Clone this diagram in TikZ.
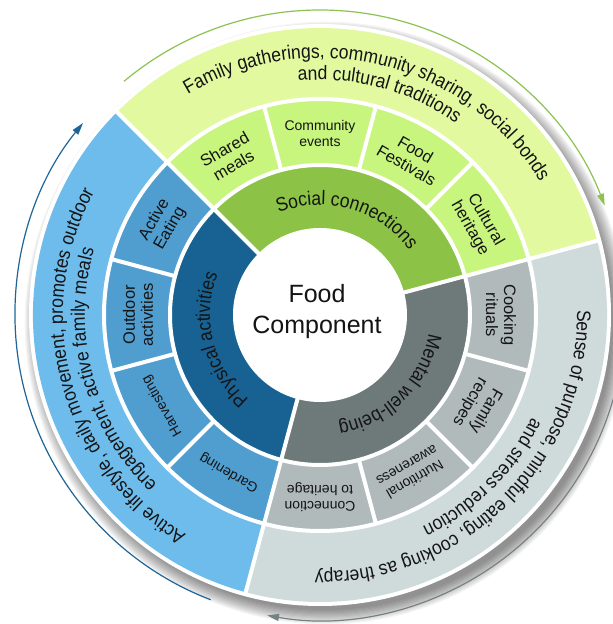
\documentclass[tikz,border=0pt]{standalone}
\usepackage{fontspec}
\setmainfont[FakeStretch=0.9]{Liberation Sans}
\newfontfamily\plainfont{Liberation Sans}
\usetikzlibrary{decorations.text,arrows.meta}

% ring colours
\definecolor{outerG}{RGB}{226,249,160}
\definecolor{subG}{RGB}{200,245,126}
\definecolor{catG}{RGB}{140,195,70}
\definecolor{outerB}{RGB}{110,188,236}
\definecolor{subB}{RGB}{80,158,208}
\definecolor{catB}{RGB}{24,98,147}
\definecolor{outerGr}{RGB}{207,219,219}
\definecolor{subGr}{RGB}{176,186,186}
\definecolor{catGr}{RGB}{110,121,121}
\definecolor{arrG}{RGB}{140,195,80}
\definecolor{arrB}{RGB}{30,100,150}
\definecolor{arrGr}{RGB}{118,130,130}
\definecolor{ink}{RGB}{20,20,20}

% annular sector: colour, start angle, end angle, inner radius, outer radius
\newcommand\ringsector[5]{%
  \fill[#1] (#2:#4) arc[start angle=#2, end angle=#3, radius=#4]
    -- (#3:#5) arc[start angle=#3, end angle=#2, radius=#5] -- cycle;}

% text set clockwise along an arc: centre angle, baseline radius, font size, text
\newcommand\arctext[4]{%
  \path[decorate, decoration={text along path, text align=center,
      text color=ink, text={|\fontsize{#3}{#3}\selectfont|#4}}]
    (#1+85:#2) arc[start angle=#1+85, end angle=#1-85, radius=#2];}

\begin{document}
\begin{tikzpicture}[
  sublabel/.style={font=\plainfont\fontsize{16.5}{18}\selectfont, align=center, text=ink, inner sep=0pt},
  smalllabel/.style={font=\plainfont\fontsize{14}{16}\selectfont, align=center, text=ink, inner sep=0pt},
  gap/.style={white, line width=4pt},
  cyclearrow/.style={line width=1.2pt, -{Triangle[length=12pt,width=7pt]}},
]
\useasboundingbox (-320pt,-309pt) rectangle (293pt,315pt);

% soft shadow under the wheel
\foreach \i in {0,...,13}
  \fill[black, opacity=0.04] (6pt,-8pt) circle[radius=287pt+\i*1.1pt];

% white rim
\fill[white] (0,0) circle[radius=291pt];

% outer ring
\ringsector{outerG}{15}{135}{216pt}{287pt}
\ringsector{outerB}{135}{255}{216pt}{287pt}
\ringsector{outerGr}{255}{375}{216pt}{287pt}

% middle ring
\ringsector{subG}{15}{135}{150pt}{216pt}
\ringsector{subB}{135}{255}{150pt}{216pt}
\ringsector{subGr}{255}{375}{150pt}{216pt}

% inner ring
\ringsector{catG}{15}{135}{85pt}{150pt}
\ringsector{catB}{135}{255}{85pt}{150pt}
\ringsector{catGr}{255}{375}{85pt}{150pt}

% white separators
\draw[gap] (0,0) circle[radius=216pt];
\draw[gap] (0,0) circle[radius=150pt];
\foreach \a in {15,135,255}
  \draw[gap] (\a:80pt) -- (\a:289pt);
\foreach \a in {45,75,105,165,195,225,285,315,345}
  \draw[gap] (\a:150pt) -- (\a:216pt);
\fill[white] (0,0) circle[radius=87pt];

% centre
\node[font=\plainfont\fontsize{25}{31}\selectfont, align=center, text=ink] (core) at (-3pt,3pt) {Food\\Component};

% inner ring titles
\arctext{74}{110pt}{19.5}{Social connections}
\arctext{194}{110pt}{19.5}{Physical activities}
\arctext{-45}{110pt}{19.5}{Mental well-being}

% outer ring descriptions
\arctext{76}{257pt}{19.5}{Family gatherings, community sharing, social bonds}
\arctext{75}{235pt}{19.5}{and cultural traditions}
\arctext{195}{257pt}{19.5}{Active lifestyle, daily movement, promotes outdoor}
\arctext{195}{235pt}{19.5}{engagement, active family meals}
\arctext{-45}{257pt}{19.5}{Sense of purpose, mindful eating, cooking as therapy}
\arctext{-45}{235pt}{19.5}{and stress reduction}

% middle ring labels
\node[sublabel, rotate=30] (shared) at (120:182pt) {Shared\\meals};
\node[smalllabel, rotate=0] (community) at (90:182pt) {Community\\events};
\node[sublabel, rotate=-30] (festivals) at (60:182pt) {Food\\Festivals};
\node[sublabel, rotate=-60] (heritage) at (30:182pt) {Cultural\\heritage};
\node[sublabel, rotate=60] (eating) at (150:182pt) {Active\\Eating};
\node[sublabel, rotate=90] (outdoor) at (180:182pt) {Outdoor\\activities};
\node[smalllabel, rotate=120] (harvest) at (210:182pt) {Harvesting};
\node[smalllabel, rotate=150] (garden) at (240:182pt) {Gardening};
\node[sublabel, rotate=-90] (cooking) at (0:181pt) {Cooking\\rituals};
\node[sublabel, rotate=-120] (recipes) at (-30:182pt) {Family\\recipes};
\node[smalllabel, rotate=-150] (nutrition) at (-60:182pt) {Nutritional\\awareness};
\node[smalllabel, rotate=180] (connection) at (-90:182pt) {Connection\\to heritage};

% cycle arrows around the wheel
\draw[cyclearrow, arrG] (130:305pt) arc[start angle=130, end angle=21, radius=305pt];
\draw[cyclearrow, arrB] (249:305pt) arc[start angle=249, end angle=141, radius=305pt];
\draw[cyclearrow, arrGr] (10:305pt) arc[start angle=10, end angle=-100, radius=305pt];
\end{tikzpicture}
\end{document}
